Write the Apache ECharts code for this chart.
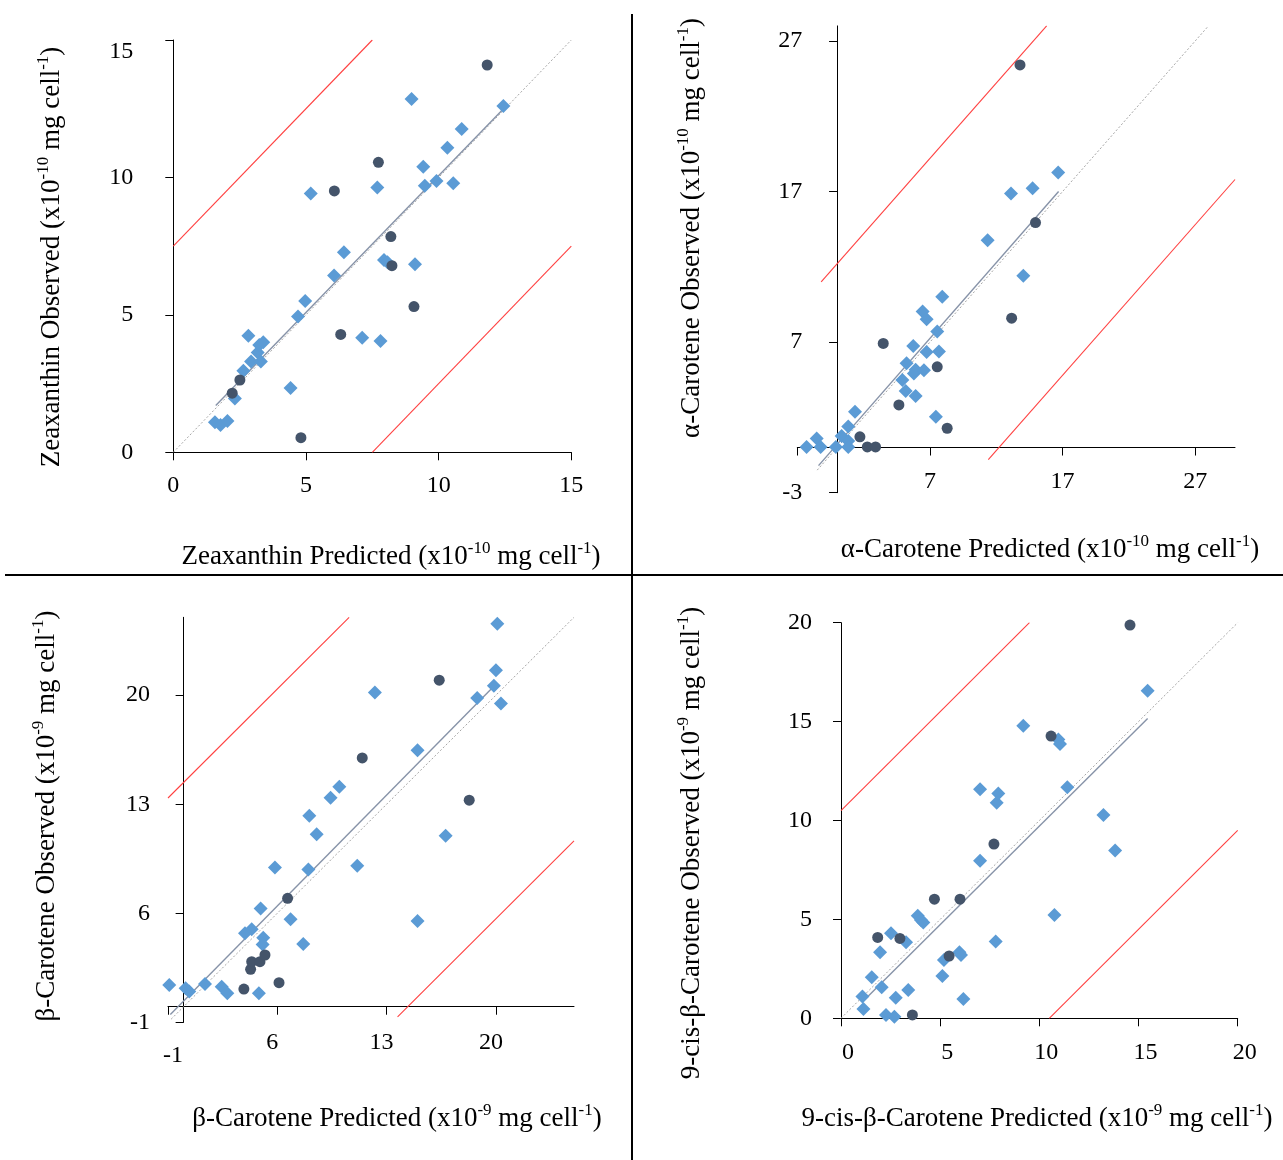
<!DOCTYPE html>
<html>
<head>
<meta charset="utf-8">
<title>Predicted vs Observed carotenoids</title>
<script src="https://cdn.jsdelivr.net/npm/echarts@6/dist/echarts.min.js"></script>
<style>
	html, body { margin: 0; padding: 0; background: #fff; }
	#main { width: 1283px; height: 1160px; }
</style>
</head>
<body>
<div id="main"></div>
<script>
// ---- data: [predicted, observed] ----
var zeaBlue = [ [1.57,1.09],[1.78,0.99],[2.04,1.14],[2.32,1.96],[2.64,2.97],[2.93,3.30],[2.83,4.24],[3.18,3.63],[3.24,3.90],[3.39,4.00],[3.30,3.30],[4.42,2.34],[4.70,4.94],[4.97,5.50],[5.18,9.42],[6.06,6.43],[6.43,7.28],[7.12,4.17],[7.69,9.63],[7.81,4.05],[7.94,7.00],[8.07,6.91],[9.11,6.84],[8.98,12.85],[9.42,10.39],[9.48,9.70],[9.92,9.87],[10.33,11.08],[10.55,9.79],[10.87,11.76],[12.44,12.60] ];
var zeaDark = [ [2.22,2.15],[2.51,2.63],[4.81,0.53],[6.07,9.51],[6.31,4.29],[7.73,10.55],[8.20,7.85],[8.24,6.79],[9.07,5.30],[11.83,14.09] ];
var zeaFit = [ [1.6,1.7],[12.5,12.55] ];
var zeaOne = [ [0,0],[15,15] ];
var zeaUpper = [ [0,7.5],[7.5,15] ];
var zeaLower = [ [7.5,0],[15,7.5] ];
var zeaTicks = [ 0,5,10,15 ];

var acarBlue = [ [-2.30,0.04],[-1.54,0.60],[-1.24,0.04],[-0.09,0.04],[0.34,0.77],[0.84,0.44],[0.84,0.04],[0.84,1.39],[1.35,2.37],[4.92,4.49],[5.17,3.76],[5.24,5.60],[5.74,6.75],[5.79,4.91],[5.92,5.16],[5.92,3.43],[6.55,5.14],[6.45,9.03],[6.75,8.52],[6.75,6.35],[7.45,2.04],[7.55,7.70],[7.68,6.38],[7.93,10.01],[11.35,13.77],[13.11,16.87],[14.04,11.40],[14.74,17.22],[16.67,18.26] ];
var acarDark = [ [1.72,0.71],[2.28,0.04],[2.90,0.04],[3.48,6.91],[4.66,2.83],[7.55,5.36],[8.30,1.28],[13.16,8.59],[13.79,25.41],[14.96,14.94] ];
var acarFit = [ [-1.4,-1.2],[16.7,17.0] ];
var acarOne = [ [-1.5,-1.5],[28,28] ];
var acarUpper = [ [-1.2,11.0],[15.8,28] ];
var acarLower = [ [11.4,-0.8],[30,17.8] ];
var acarTicks = [ -3,7,17,27 ];
var acarXLabels = [ 7,17,27 ];

var bcarBlue = [ [-0.92,1.39],[0.13,1.18],[0.36,0.97],[1.37,1.46],[2.44,1.28],[2.80,0.86],[3.93,4.71],[4.36,4.97],[4.82,0.86],[4.93,6.31],[5.10,4.43],[5.06,4.00],[5.85,8.94],[6.85,5.61],[7.66,4.03],[7.99,8.81],[8.05,12.26],[8.52,11.08],[9.41,13.41],[9.97,14.12],[11.12,9.05],[12.25,20.17],[14.98,16.47],[14.98,5.50],[16.78,10.97],[18.80,19.82],[19.87,20.60],[20.00,21.60],[20.09,24.59],[20.32,19.46] ];
var bcarDark = [ [3.86,1.13],[4.29,2.40],[4.36,2.89],[4.89,2.89],[5.21,3.32],[6.11,1.54],[6.66,6.96],[11.44,15.97],[16.37,20.96],[18.29,13.26] ];
var bcarFit = [ [-0.85,-0.5],[19.9,20.6] ];
var bcarOne = [ [-0.8,-0.8],[25,25] ];
var bcarUpper = [ [-1,13.4],[10.6,25] ];
var bcarLower = [ [13.7,-0.65],[25,10.65] ];
var bcarTicks = [ -1,6,13,20 ];

var cisBlue = [ [1.08,1.10],[1.13,0.47],[1.55,2.07],[1.97,3.34],[2.05,1.57],[2.27,0.17],[2.52,4.30],[2.69,0.08],[2.76,1.04],[3.28,3.84],[3.39,1.43],[3.87,5.19],[4.03,4.97],[4.15,4.84],[5.11,2.14],[5.19,2.95],[5.97,3.34],[6.05,3.20],[6.17,0.98],[7.01,11.58],[7.01,7.97],[7.80,3.88],[7.85,10.90],[7.93,11.37],[9.19,14.79],[10.76,5.22],[10.96,14.10],[11.04,13.87],[11.41,11.68],[13.23,10.28],[13.82,8.48],[15.46,16.56] ];
var cisDark = [ [1.85,4.09],[2.97,4.04],[3.60,0.17],[4.71,6.02],[5.45,3.15],[6.00,6.02],[7.71,8.81],[10.59,14.27],[14.57,19.88] ];
var cisFit = [ [1.1,0.85],[15.46,15.16] ];
var cisOne = [ [0,0],[20,20] ];
var cisUpper = [ [0,10.5],[9.5,20] ];
var cisLower = [ [10.5,0],[20,9.5] ];
var cisTicks = [ 0,5,10,15,20 ];

( function() {
	'use strict';
	var FONT = '"Liberation Serif", "Times New Roman", serif';
	var RED = '#FF4040';
	var chart = echarts.init( document.getElementById( 'main' ) );

	// margins are measured from the grid edge (labels stay on the grid edge, line goes on zero)
	// shifted: one label value that sits off its tick (padding pushes it)
	var panels = [
		{ grid: { left: 173.3, top: 40, width: 398, height: 412.3 }, min: [0, 0], max: [15, 15],
			xTicks: zeaTicks, xLabels: zeaTicks, yTicks: zeaTicks, yLabels: zeaTicks, xMargin: 21, yMargin: 40, xPad: [0, 0, 0, 0],
			yShift: { value: 15, pad: [24, 0, 0, 0] },
			blue: zeaBlue, dark: zeaDark, fit: zeaFit, one: zeaOne, upper: zeaUpper, lower: zeaLower },
		{ grid: { left: 797.3, top: 25.9, width: 437.7, height: 466.8 }, min: [-3, -3], max: [30, 28],
			xTicks: acarTicks, xLabels: acarXLabels, yTicks: acarTicks, yLabels: acarTicks, xMargin: -23, yMargin: -5, xPad: [0, 0, 0, 0],
			blue: acarBlue, dark: acarDark, fit: acarFit, one: acarOne, upper: acarUpper, lower: acarLower },
		{ grid: { left: 168, top: 617.3, width: 406, height: 405 }, min: [-1, -1], max: [25, 25],
			xTicks: bcarTicks, xLabels: bcarTicks, yTicks: bcarTicks, yLabels: bcarTicks, xMargin: 8, yMargin: 18, xPad: [0, 10, 0, 0],
			xShift: { value: -1, pad: [13, 0, 0, 20] },
			blue: bcarBlue, dark: bcarDark, fit: bcarFit, one: bcarOne, upper: bcarUpper, lower: bcarLower },
		{ grid: { left: 841, top: 622.7, width: 396.7, height: 395.6 }, min: [0, 0], max: [20, 20],
			xTicks: cisTicks, xLabels: cisTicks, yTicks: cisTicks, yLabels: cisTicks, xMargin: 22, yMargin: 29, xPad: [0, 0, 0, 14],
			blue: cisBlue, dark: cisDark, fit: cisFit, one: cisOne, upper: cisUpper, lower: cisLower }
	];

	var grids = [], xAxes = [], yAxes = [], series = [];

	function axis( p, i, dim ) {
		var k = dim === 'x' ? 0 : 1;
		var shift = dim === 'x' ? p.xShift : p.yShift;
		var label = {
			show: true,
			margin: dim === 'x' ? p.xMargin : p.yMargin,
			customValues: dim === 'x' ? p.xLabels : p.yLabels,
			padding: dim === 'x' ? p.xPad : 0,
			color: '#000', fontSize: 24, fontFamily: FONT
		};
		if ( shift ) {
			label.formatter = function( v ) {
				return v === shift.value ? '{m|' + v + '}' : '' + v;
			};
			label.rich = { m: { padding: shift.pad, color: '#000', fontSize: 24, fontFamily: FONT } };
		}
		return {
			type: 'value',
			gridIndex: i,
			min: p.min[k],
			max: p.max[k],
			axisLine: { show: true, onZero: true, lineStyle: { color: '#000', width: 1 } },
			axisTick: { show: true, inside: false, length: 8, customValues: dim === 'x' ? p.xTicks : p.yTicks, lineStyle: { color: '#000' } },
			axisLabel: label,
			splitLine: { show: false }
		};
	}

	function line( i, name, data, color, width, type, z ) {
		return { type: 'line', name: name, xAxisIndex: i, yAxisIndex: i, data: data, symbol: 'none', silent: true, z: z,
			color: color, itemStyle: { color: color },
			lineStyle: { color: color, width: width, type: type, opacity: 1 } };
	}

	for ( var i = 0; i < panels.length; i++ ) {
		var p = panels[ i ];
		grids.push( { left: p.grid.left, top: p.grid.top, width: p.grid.width, height: p.grid.height, containLabel: false } );
		xAxes.push( axis( p, i, 'x' ) );
		yAxes.push( axis( p, i, 'y' ) );
		series.push( line( i, 'upper' + i, p.upper, RED, 1.1, 'solid', 2 ) );
		series.push( line( i, 'lower' + i, p.lower, RED, 1.1, 'solid', 2 ) );
		series.push( line( i, 'one' + i, p.one, '#A6A6A6', 1, [2, 2], 2 ) );
		series.push( line( i, 'fit' + i, p.fit, '#8793A8', 1.4, 'solid', 3 ) );
		series.push( { type: 'scatter', name: 'blue' + i, xAxisIndex: i, yAxisIndex: i, data: p.blue, symbol: 'diamond', symbolSize: 14, z: 4,
			itemStyle: { color: '#5B9BD5', opacity: 1 } } );
		series.push( { type: 'scatter', name: 'dark' + i, xAxisIndex: i, yAxisIndex: i, data: p.dark, symbol: 'circle', symbolSize: 11, z: 5,
			itemStyle: { color: '#44546A', opacity: 1 } } );
	}

	function title( x, y, rot, name, exp ) {
		return {
			type: 'text', x: x, y: y, rotation: rot,
			style: {
				text: '{t|' + name + ' (x10}{s|' + exp + '}{t| mg cell}{s|-1}{t|)}',
				align: 'center', verticalAlign: 'middle',
				rich: {
					t: { fontSize: 27, fontFamily: FONT, fill: '#000', lineHeight: 30, verticalAlign: 'bottom' },
					s: { fontSize: 17, fontFamily: FONT, fill: '#000', lineHeight: 18, verticalAlign: 'top' }
				}
			}
		};
	}

	var graphics = [
		{ type: 'line', shape: { x1: 632, y1: 14, x2: 632, y2: 1160 }, style: { stroke: '#000', lineWidth: 2 } },
		{ type: 'line', shape: { x1: 5, y1: 575, x2: 1283, y2: 575 }, style: { stroke: '#000', lineWidth: 2 } },
		title( 391, 555, 0, 'Zeaxanthin Predicted', '-10' ),
		title( 50, 257, Math.PI / 2, 'Zeaxanthin Observed', '-10' ),
		title( 1050, 548, 0, 'α-Carotene Predicted', '-10' ),
		title( 690, 228, Math.PI / 2, 'α-Carotene Observed', '-10' ),
		title( 397, 1117, 0, 'β-Carotene Predicted', '-9' ),
		title( 45, 816, Math.PI / 2, 'β-Carotene Observed', '-9' ),
		title( 1037, 1117, 0, '9-cis-β-Carotene Predicted', '-9' ),
		title( 690, 843, Math.PI / 2, '9-cis-β-Carotene Observed', '-9' )
	];

	chart.setOption( {
		animation: false,
		backgroundColor: '#fff',
		grid: grids,
		xAxis: xAxes,
		yAxis: yAxes,
		series: series,
		graphic: graphics
	} );
} )();
</script>
</body>
</html>
